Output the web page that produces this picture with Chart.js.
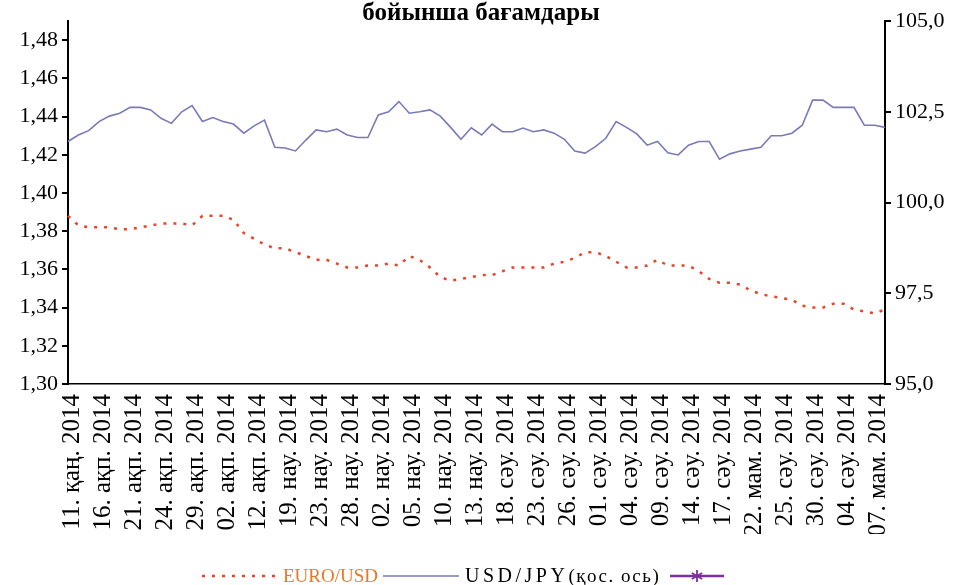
<!DOCTYPE html>
<html>
<head>
<meta charset="utf-8">
<script src="https://cdn.jsdelivr.net/npm/chart.js@4.4.1/dist/chart.umd.min.js"></script>
<style>
  html, body { margin: 0; padding: 0; background: #fff; }
  #wrap { width: 957px; height: 585px; }
</style>
</head>
<body>
<div id="wrap"><canvas id="rateChart" width="957" height="585"></canvas></div>
<script>
// подписи оси X (каждая третья точка)
const tickLabels = [
  '11. қаң. 2014', '16. ақп. 2014', '21. ақп. 2014', '24. ақп. 2014', '29. ақп. 2014',
  '02. ақп. 2014', '12. ақп. 2014', '19. нау. 2014', '23. нау. 2014', '28. нау. 2014',
  '02. нау. 2014', '05. нау. 2014', '10. нау. 2014', '13. нау. 2014', '18. сәу. 2014',
  '23. сәу. 2014', '26. сәу. 2014', '01. сәу. 2014', '04. сәу. 2014', '09. сәу. 2014',
  '14. сәу. 2014', '17. сәу. 2014', '22. мам. 2014', '25. сәу. 2014', '30. сәу. 2014',
  '04. сәу. 2014', '07. мам. 2014'
];

const euroUsd = [
  1.388, 1.383, 1.382, 1.382, 1.382, 1.381, 1.381, 1.382, 1.383, 1.384,
  1.384, 1.384, 1.383, 1.388, 1.388, 1.388, 1.386, 1.379, 1.376, 1.373,
  1.371, 1.371, 1.369, 1.367, 1.365, 1.365, 1.363, 1.361, 1.361, 1.362,
  1.362, 1.363, 1.362, 1.367, 1.365, 1.361, 1.356, 1.354, 1.355, 1.356,
  1.357, 1.357, 1.359, 1.361, 1.361, 1.361, 1.361, 1.363, 1.364, 1.366,
  1.369, 1.369, 1.367, 1.364, 1.361, 1.361, 1.362, 1.365, 1.362, 1.362,
  1.362, 1.359, 1.355, 1.353, 1.353, 1.352, 1.349, 1.347, 1.346, 1.345,
  1.344, 1.341, 1.340, 1.340, 1.342, 1.342, 1.339, 1.338, 1.337, 1.339
];

const usdJpy = [
  101.68, 101.86, 101.98, 102.23, 102.38, 102.46, 102.62, 102.62, 102.55, 102.32,
  102.18, 102.50, 102.67, 102.23, 102.34, 102.23, 102.16, 101.91, 102.11, 102.27,
  101.52, 101.50, 101.42, 101.72, 102.00, 101.95, 102.02, 101.86, 101.79, 101.79,
  102.41, 102.50, 102.78, 102.46, 102.50, 102.55, 102.38, 102.07, 101.74, 102.06,
  101.86, 102.16, 101.95, 101.95, 102.05, 101.95, 102.00, 101.91, 101.74, 101.42,
  101.36, 101.54, 101.77, 102.23, 102.07, 101.89, 101.58, 101.68, 101.37, 101.31,
  101.58, 101.68, 101.68, 101.19, 101.34, 101.42, 101.47, 101.52, 101.84, 101.84,
  101.91, 102.13, 102.82, 102.82, 102.62, 102.62, 102.62, 102.13, 102.13, 102.07
];

const labels = euroUsd.map((v, i) => (i % 3 === 0 ? tickLabels[i / 3] : ''));

const SERIF = '"Liberation Serif", "DejaVu Serif", serif';

// заголовок и легенда рисуем сами
const decorPlugin = {
  id: 'decor',
  afterDraw(chart) {
    const ctx = chart.ctx;
    ctx.save();
    ctx.fillStyle = '#000';
    ctx.font = 'bold 25px ' + SERIF;
    ctx.textAlign = 'center';
    ctx.textBaseline = 'alphabetic';
    ctx.fillText('бойынша бағамдары', 481, 20);

    const y = 576;
    ctx.textAlign = 'left';
    ctx.textBaseline = 'middle';

    // EURO/USD
    ctx.strokeStyle = '#e8442c';
    ctx.lineWidth = 2.5;
    ctx.setLineDash([3, 7]);
    ctx.beginPath(); ctx.moveTo(202, y); ctx.lineTo(278, y); ctx.stroke();
    ctx.setLineDash([]);
    ctx.fillStyle = '#e8782a';
    ctx.font = '19px ' + SERIF;
    ctx.fillText('EURO/USD', 283, y + 1);

    // USD/JPY
    ctx.strokeStyle = '#7a7ab8';
    ctx.lineWidth = 1.5;
    ctx.beginPath(); ctx.moveTo(383, y); ctx.lineTo(459, y); ctx.stroke();
    ctx.fillStyle = '#000';
    ctx.font = '20px ' + SERIF;
    ctx.letterSpacing = '3.5px';
    ctx.fillText('USD/JPY', 465, y + 1);
    const w = ctx.measureText('USD/JPY').width;
    ctx.font = '19px ' + SERIF;
    ctx.letterSpacing = '1.5px';
    ctx.fillText('(қос. ось)', 465 + w, y + 1);
    ctx.letterSpacing = '0px';

    // третья серия (пустая)
    ctx.strokeStyle = '#7b2fa0';
    ctx.lineWidth = 2.5;
    ctx.beginPath(); ctx.moveTo(670, y); ctx.lineTo(724, y); ctx.stroke();
    ctx.lineWidth = 1.8;
    const cx = 697, r = 6;
    ctx.beginPath();
    for (let k = 0; k < 3; k++) {
      const a = Math.PI / 2 + k * Math.PI / 3;
      ctx.moveTo(cx + r * Math.cos(a), y + r * Math.sin(a));
      ctx.lineTo(cx - r * Math.cos(a), y - r * Math.sin(a));
    }
    ctx.stroke();
    ctx.restore();
  }
};

new Chart(document.getElementById('rateChart'), {
  type: 'line',
  data: {
    labels: labels,
    datasets: [
      {
        label: 'EURO/USD',
        data: euroUsd,
        yAxisID: 'y',
        borderColor: '#e8442c',
        borderWidth: 2.5,
        borderDash: [3, 7],
        pointRadius: 0,
        tension: 0
      },
      {
        label: 'USD/JPY(қос. ось)',
        data: usdJpy,
        yAxisID: 'y1',
        borderColor: '#7a7ab8',
        borderWidth: 1.6,
        pointRadius: 0,
        tension: 0
      }
    ]
  },
  options: {
    responsive: false,
    animation: false,
    layout: { padding: { top: 21, bottom: 51, left: 0, right: 0 } },
    plugins: {
      legend: { display: false },
      title: { display: false },
      tooltip: { enabled: false }
    },
    scales: {
      x: {
        offset: false,
        grid: { display: false },
        border: { display: true, color: '#000', width: 1.5 },
        ticks: {
          autoSkip: false,
          maxRotation: 90,
          minRotation: 90,
          padding: 2,
          labelOffset: 4,
          color: '#000',
          font: { family: SERIF, size: 25 }
        },
        afterFit(scale) { scale.height = 150; }
      },
      y: {
        position: 'left',
        min: 1.30,
        max: 1.49,
        grid: { drawOnChartArea: false, drawTicks: true, tickLength: 6, color: '#000', lineWidth: 2 },
        border: { display: true, color: '#000', width: 2 },
        ticks: {
          stepSize: 0.02,
          includeBounds: false,
          padding: 4,
          color: '#000',
          font: { family: SERIF, size: 22 },
          callback: v => v.toFixed(2).replace('.', ',')
        },
        afterFit(scale) { scale.width = 68; }
      },
      y1: {
        position: 'right',
        min: 95,
        max: 105,
        grid: { drawOnChartArea: false, drawTicks: true, tickLength: 6, color: '#000', lineWidth: 2 },
        border: { display: true, color: '#000', width: 2 },
        ticks: {
          stepSize: 2.5,
          padding: 4,
          color: '#000',
          font: { family: SERIF, size: 22 },
          callback: v => v.toFixed(1).replace('.', ',')
        },
        afterFit(scale) { scale.width = 72; }
      }
    }
  },
  plugins: [decorPlugin]
});
</script>
</body>
</html>
